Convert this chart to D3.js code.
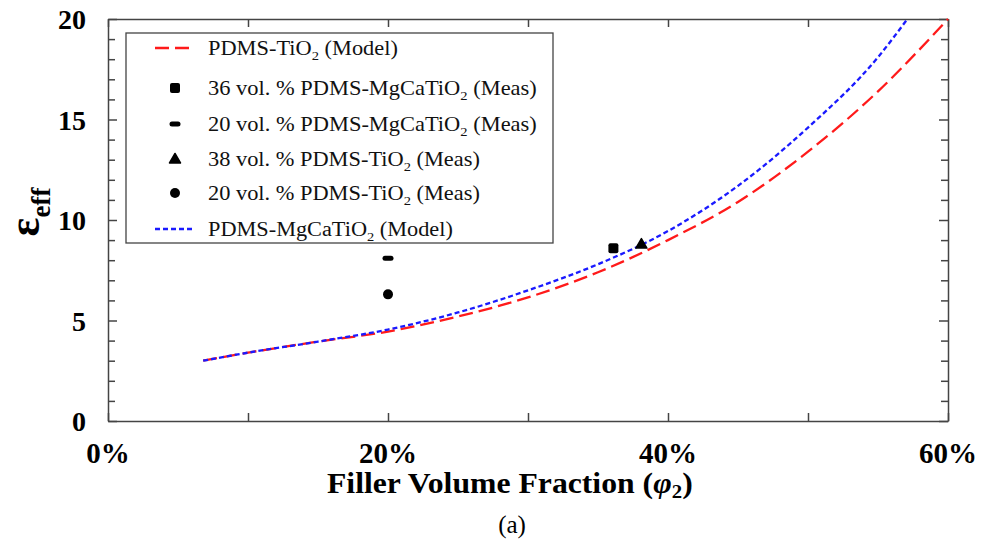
<!DOCTYPE html>
<html><head><meta charset="utf-8">
<script src="https://cdn.jsdelivr.net/npm/d3@7"></script>
<style>body{margin:0;background:#fff}</style>
</head><body>
<svg id="c" width="998" height="546"></svg>
<script>
// Data
const tio2ModelX = [0.068,0.10,0.15,0.20,0.25,0.30,0.35,0.40,0.45,0.50,0.55,0.60];
const tio2ModelY = [3.0,3.4,3.95,4.45,5.2,6.15,7.4,9.0,10.9,13.4,16.4,20.0];
const mgModelX = [0.068,0.10,0.15,0.20,0.25,0.30,0.35,0.40,0.45,0.50,0.55,0.571];
const mgModelY = [3.0,3.4,3.95,4.55,5.4,6.5,7.8,9.45,11.7,14.6,18.1,20.0];
const measLabels = ["36 vol. % PDMS-MgCaTiO","20 vol. % PDMS-MgCaTiO","38 vol. % PDMS-TiO","20 vol. % PDMS-TiO"];
const measX = [0.361,0.20,0.381,0.20];
const measY = [8.6,8.1,8.8,6.3];
const measShape = ["square","dash","triangle","circle"];
const xTicks = [0,0.1,0.2,0.3,0.4,0.5,0.6];
const xLabels = ["0%","","20%","","40%","","60%"];
const yTicks = d3.range(0,21,1);
const yLabelVals = [0,5,10,15,20];

const FONT="Liberation Serif";
const svg = d3.select("#c");
const L=108,R=948,T=19,B=421;
const x = d3.scaleLinear().domain([0,0.6]).range([L,R]);
const y = d3.scaleLinear().domain([0,20]).range([B,T]);
const axisColor="#444";

function fitWidth(t, target){
  const bb=t.node().getBBox();
  const k=target/bb.width, x0=bb.x;
  t.attr("transform",`translate(${x0},0) scale(${k},1) translate(${-x0},0)`);
}

// frame ticks
const gB = svg.append("g").attr("transform",`translate(0,${B})`)
  .call(d3.axisBottom(x).tickValues(xTicks).tickSizeInner(-8).tickSizeOuter(0).tickFormat(""));
const gT = svg.append("g").attr("transform",`translate(0,${T})`)
  .call(d3.axisTop(x).tickValues(xTicks).tickSizeInner(-8).tickSizeOuter(0).tickFormat(""));
const gL = svg.append("g").attr("transform",`translate(${L},0)`)
  .call(d3.axisLeft(y).tickValues(yTicks).tickSizeInner(-7).tickSizeOuter(0).tickFormat(""));
const gR = svg.append("g").attr("transform",`translate(${R},0)`)
  .call(d3.axisRight(y).tickValues(yTicks).tickSizeInner(-7).tickSizeOuter(0).tickFormat(""));
[gB,gT,gL,gR].forEach(g=>{g.selectAll("path,line").attr("stroke",axisColor).attr("stroke-width",1.5);});
gL.selectAll(".tick line").attr("x2",d=>yLabelVals.includes(d)?9:7);
gR.selectAll(".tick line").attr("x2",d=>yLabelVals.includes(d)?-9:-7);

// tick labels
svg.append("g").selectAll("text").data(xTicks.map((v,i)=>({v,l:xLabels[i]})).filter(d=>d.l))
 .join("text").attr("font-family",FONT).attr("x",d=>x(d.v)).attr("y",463).attr("text-anchor","middle")
 .attr("font-size",29).attr("font-weight","bold").text(d=>d.l);
svg.append("g").selectAll("text").data(yLabelVals)
 .join("text").attr("font-family",FONT).attr("x",86).attr("y",d=>y(d)+10).attr("text-anchor","end")
 .attr("font-size",28).attr("font-weight","bold").text(d=>d);

// axis titles
const xt = svg.append("text").attr("font-family",FONT).attr("x",327).attr("y",493)
 .attr("font-size",29).attr("font-weight","bold");
xt.append("tspan").text("Filler Volume Fraction (");
xt.append("tspan").attr("font-style","italic").text("φ");
xt.append("tspan").attr("font-size",19).attr("dy",5).text("2");
xt.append("tspan").attr("dy",-5).text(")");
fitWidth(xt,366);
const yt = svg.append("text").attr("font-family",FONT).attr("transform","translate(39,212) rotate(-90)").attr("text-anchor","middle")
 .attr("font-weight","bold");
yt.append("tspan").attr("font-size",44).text("ε");
yt.append("tspan").attr("font-size",27).attr("dy",11).text("eff");
svg.append("text").attr("font-family",FONT).attr("x",512).attr("y",533).attr("text-anchor","middle").attr("font-size",25).text("(a)");

// curves
const line = d3.line().x(d=>x(d[0])).y(d=>y(d[1])).curve(d3.curveMonotoneX);
svg.append("path").datum(tio2ModelX.map((v,i)=>[v,tio2ModelY[i]])).attr("d",line)
 .attr("fill","none").attr("stroke","#ff1a1a").attr("stroke-width",2.3).attr("stroke-dasharray","14,6");
svg.append("path").datum(mgModelX.map((v,i)=>[v,mgModelY[i]])).attr("d",line)
 .attr("fill","none").attr("stroke","#1a1aff").attr("stroke-width",2.3).attr("stroke-dasharray","5,3");

function marker(g,shape,cx,cy){
  if(shape==="square") g.append("rect").attr("x",cx-5).attr("y",cy-5).attr("width",10).attr("height",10).attr("rx",2).attr("fill","#000");
  else if(shape==="dash") g.append("rect").attr("x",cx-5.5).attr("y",cy-2.5).attr("width",11).attr("height",5).attr("rx",2.5).attr("fill","#000");
  else if(shape==="triangle") g.append("path").attr("d",`M${cx},${cy-5.5}L${cx+5.5},${cy+4}L${cx-5.5},${cy+4}Z`).attr("fill","#000").attr("stroke","#000").attr("stroke-linejoin","round").attr("stroke-width",1.5);
  else g.append("circle").attr("cx",cx).attr("cy",cy).attr("r",5).attr("fill","#000");
}
const gm = svg.append("g");
measX.forEach((v,i)=>marker(gm,measShape[i],x(v),y(measY[i])));

// legend
const lg = svg.append("g");
lg.append("rect").attr("x",126).attr("y",33).attr("width",427).attr("height",210).attr("fill","#fff").attr("stroke","#444").attr("stroke-width",1.3);
const rows=[48,88,124,159,193,229];
const widths=[190,329,329,272,272,245];
const items=[
 {type:"line",color:"#ff1a1a",dash:"14,6",pre:"PDMS-TiO",post:" (Model)"},
 {type:"m",shape:"square",pre:measLabels[0],post:" (Meas)"},
 {type:"m",shape:"dash",pre:measLabels[1],post:" (Meas)"},
 {type:"m",shape:"triangle",pre:measLabels[2],post:" (Meas)"},
 {type:"m",shape:"circle",pre:measLabels[3],post:" (Meas)"},
 {type:"line",color:"#1a1aff",dash:"5,3",pre:"PDMS-MgCaTiO",post:" (Model)"}
];
items.forEach((it,i)=>{
  const cy=rows[i];
  if(it.type==="line") lg.append("line").attr("x1",155).attr("x2",194).attr("y1",cy).attr("y2",cy)
     .attr("stroke",it.color).attr("stroke-width",2.3).attr("stroke-dasharray",it.dash);
  else marker(lg,it.shape,175,cy);
  const t=lg.append("text").attr("font-family",FONT).attr("x",208).attr("y",cy+7).attr("font-size",20).attr("fill","#111");
  t.append("tspan").text(it.pre);
  t.append("tspan").attr("font-size",13).attr("dy",5).text("2");
  t.append("tspan").attr("dy",-5).text(it.post);
  fitWidth(t,widths[i]);
});
</script>
</body></html>
